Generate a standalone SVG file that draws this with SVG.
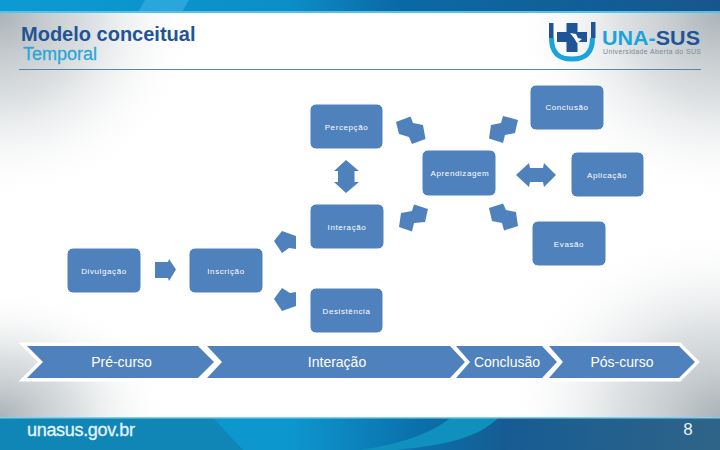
<svg xmlns="http://www.w3.org/2000/svg" width="720" height="450" viewBox="0 0 720 450">
<style>
text{font-family:"Liberation Sans",Arial,sans-serif}
.box{fill:#4f81bd;stroke:#ffffff;stroke-width:1}
.lbl{fill:#ffffff;font-size:8px;letter-spacing:.6px;text-anchor:middle}
.arr{fill:#4f81bd}
.chev{fill:#4f81bd;stroke:#ffffff;stroke-width:7;paint-order:stroke;stroke-linejoin:miter}
.ct{fill:#ffffff;font-size:14px;text-anchor:middle}
</style>
<defs>
<radialGradient id="cg">
<stop offset="0" stop-color="#aab3b8" stop-opacity="1"/><stop offset=".45" stop-color="#c4cacd" stop-opacity=".6"/><stop offset="1" stop-color="#ffffff" stop-opacity="0"/>
</radialGradient>
<linearGradient id="bar" x1="0" x2="1" y1="0" y2="0">
<stop offset="0" stop-color="#0c9bd2"/><stop offset=".4" stop-color="#0c8ec8"/><stop offset=".55" stop-color="#0a6aa6"/><stop offset="1" stop-color="#17568c"/>
</linearGradient>
<linearGradient id="foot" x1="0" x2="1" y1="0" y2="0">
<stop offset="0" stop-color="#0d97cf"/><stop offset=".4" stop-color="#0d97cf"/><stop offset=".58" stop-color="#0a70ab"/><stop offset=".7" stop-color="#165c93"/><stop offset="1" stop-color="#2f6488"/>
</linearGradient>
</defs>
<rect width="720" height="450" fill="#ffffff"/>
<g id="background-shading">
<ellipse cx="0" cy="13" rx="200" ry="190" fill="url(#cg)"/>
<ellipse cx="0" cy="417" rx="170" ry="130" fill="url(#cg)"/>
<ellipse cx="720" cy="13" rx="210" ry="190" fill="url(#cg)"/>
<ellipse cx="720" cy="417" rx="220" ry="190" fill="url(#cg)"/>
</g>
<g id="header">
<rect width="720" height="12" fill="url(#bar)"/>
<polygon points="145,0 189,0 182,12 138,12" fill="#2aa6dc"/>
<rect y="11" width="720" height="2" fill="#5cc0e6"/>
<text x="21" y="41" font-size="20" font-weight="700" fill="#1f5596">Modelo conceitual</text>
<text x="23" y="60" font-size="18" fill="#2aa7d8" stroke="#2aa7d8" stroke-width=".3">Temporal</text>
<line x1="19" y1="69.5" x2="701" y2="69.5" stroke="#5b86a8" stroke-width="1"/>
</g>
<g id="logo">
<path d="M551.5,38C551.5,54 560,59 572,59C584,59 592.5,54 592.5,38" fill="none" stroke="#1ba4dc" stroke-width="5"/>
<rect x="549" y="23" width="4.500" height="15" fill="#1f5596"/>
<rect x="591" y="22" width="4.500" height="16" fill="#1f5596"/>
<path d="M566.5,23H577.5V32H587V42H577.5V52H566.5V42H557V32H566.5Z" fill="#1f5596"/>
<polygon points="570,33 576,34 578,38 582,39 577,43 574,38" fill="#ffffff"/>
<text x="602" y="45" font-size="20" font-weight="700" fill="#1ba4dc" textLength="98" lengthAdjust="spacingAndGlyphs">UNA-<tspan fill="#1f5596">SUS</tspan></text>
<text x="603" y="54" font-size="7" fill="#7d8a92" textLength="98" lengthAdjust="spacing">Universidade Aberta do SUS</text>
</g>
<g id="connectors">
<polygon class="arr" points="396,122 410.500,116.500 413,123 423,125 425.500,139 412,144 409,137 399,134"/>
<polygon class="arr" points="503,116 518,120 515,133 505,135 503,143 489,138.500 491,125 501,123"/>
<polygon class="arr" points="346,160 359,171 354.500,171 354.500,182 359,182 346,193 334,182 338,182 338,171 334,171"/>
<polygon class="arr" points="516,175 529,163 530,168 543,168 544,163 556,175 544,187 543,182 530,182 529,187"/>
<polygon class="arr" points="414,204.500 428,209 425,222 414,223 412,231.500 399,227 401,213 412,211"/>
<polygon class="arr" points="503,203.500 506,210 516,212 518,226 504,230.500 502,223 492,221 489,208"/>
<polygon class="arr" points="282,231 296,236 296,249 289,248 282,253 274,241"/>
<polygon class="arr" points="282,288 290,293 296,292 296,306 282,311 274,299"/>
<polygon class="arr" points="155,262 168,262 169,259 176,269.500 169,281 168,278 155,278"/>
</g>
<g id="n-conclusao"><rect class="box" x="530" y="85" width="74" height="45" rx="6"/><text class="lbl" x="567" y="110">Conclusão</text></g>
<g id="n-percepcao"><rect class="box" x="310" y="104" width="73" height="45" rx="6"/><text class="lbl" x="346.500" y="130">Percepção</text></g>
<g id="n-aprendizagem"><rect class="box" x="422" y="150" width="74" height="46" rx="6"/><text class="lbl" x="460" y="176">Aprendizagem</text></g>
<g id="n-aplicacao"><rect class="box" x="571" y="152" width="73" height="45" rx="6"/><text class="lbl" x="607" y="178">Aplicação</text></g>
<g id="n-interacao"><rect class="box" x="310" y="204" width="74" height="45" rx="6"/><text class="lbl" x="347" y="230">Interação</text></g>
<g id="n-evasao"><rect class="box" x="532" y="221" width="74" height="45" rx="6"/><text class="lbl" x="569" y="247">Evasão</text></g>
<g id="n-divulgacao"><rect class="box" x="67" y="248" width="74" height="45" rx="6"/><text class="lbl" x="104" y="274">Divulgação</text></g>
<g id="n-inscricao"><rect class="box" x="189" y="248" width="74" height="45" rx="6"/><text class="lbl" x="226" y="274">Inscrição</text></g>
<g id="n-desistencia"><rect class="box" x="310" y="288" width="73" height="45" rx="6"/><text class="lbl" x="346.500" y="314">Desistência</text></g>
<g id="timeline">
<g id="c-pre"><polygon class="chev" points="27,346 198,346 214,362 198,378 27,378 43,362"/><text class="ct" x="121.500" y="367">Pré-curso</text></g>
<g id="c-inter"><polygon class="chev" points="207,346 450,346 465,362 450,378 207,378 222,362"/><text class="ct" x="337" y="367">Interação</text></g>
<g id="c-conc"><polygon class="chev" points="456,346 542,346 557,362 542,378 456,378 470,362"/><text class="ct" x="507" y="367">Conclusão</text></g>
<g id="c-pos"><polygon class="chev" points="549,346 679,346 695,362 679,378 549,378 563,362"/><text class="ct" x="622" y="367">Pós-curso</text></g>
</g>
<g id="footer">
<rect y="418" width="720" height="32" fill="url(#foot)"/>
<polygon points="0,418 213,418 243,450 0,450" fill="#0f86b6"/>
<path d="M450,418H498C480,436 450,445 395,450H360C400,444 430,434 450,418Z" fill="#0f90bd"/>
<rect y="417" width="720" height="1.500" fill="#7fd0ea"/>
<text x="27" y="436" font-size="18" fill="#e6f3f9" stroke="#e6f3f9" stroke-width=".3" textLength="108" lengthAdjust="spacing">unasus.gov.br</text>
<text x="688" y="435" font-size="17" fill="#e6f3f9" text-anchor="middle">8</text>
</g>
</svg>
